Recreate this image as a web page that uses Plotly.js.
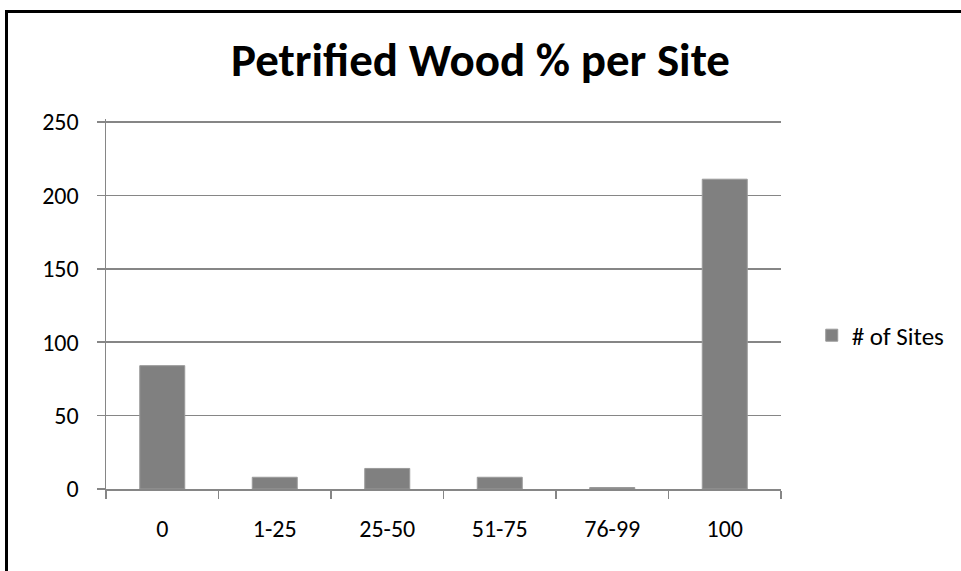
<!DOCTYPE html>
<html>
<head>
<meta charset="utf-8">
<script src="https://cdn.plot.ly/plotly-3.0.1.min.js"></script>
<style>
html,body{margin:0;padding:0;background:#fff;overflow:hidden;}
#frame{position:absolute;left:5px;top:10px;width:2000px;height:2000px;border:3px solid #000;pointer-events:none;z-index:5;}
#chart{position:absolute;left:0;top:0;width:961px;height:571px;}
</style>
</head>
<body>
<div id="chart"></div>
<div id="frame"></div>
<script>
const categories = ["0", "1-25", "25-50", "51-75", "76-99", "100"];
const sites = [84, 8, 14, 8, 1, 211];
const seriesName = "# of Sites";
const yTicks = [0, 50, 100, 150, 200, 250];

const fontFam = "Carlito, Calibri, 'Liberation Sans Narrow', 'DejaVu Sans Condensed', 'Open Sans', sans-serif";

const trace = {
  type: "bar",
  x: categories,
  y: sites,
  name: seriesName,
  width: 0.4,
  marker: {color: "#808080", line: {color: "#9a9a9a", width: 1}},
  showlegend: true
};

const layout = {
  width: 961, height: 571,
  margin: {l: 106, r: 179, t: 119, b: 82},
  paper_bgcolor: "#fff", plot_bgcolor: "#fff",
  font: {family: fontFam, size: 24, color: "#000"},
  title: {text: "<b>Petrified Wood % per Site</b>", font: {family: fontFam, size: 47, color: "#000"},
          x: 0.5, xanchor: "center", y: 0.895, yanchor: "middle"},
  xaxis: {
    type: "category",
    range: [-0.5, 5.5],
    showgrid: false,
    showline: true, linecolor: "#868686", linewidth: 1.5,
    ticks: "outside", ticklen: 8, tickcolor: "#868686", tickwidth: 1.5,
    tickson: "boundaries",
    tickfont: {family: fontFam, size: 24},
    ticklabelstandoff: 18,
    zeroline: false, fixedrange: true
  },
  yaxis: {
    range: [0, 252],
    tickvals: yTicks,
    showgrid: true, gridcolor: "#868686", gridwidth: 1.5,
    showline: true, linecolor: "#868686", linewidth: 1.5,
    ticks: "outside", ticklen: 8, tickcolor: "#868686", tickwidth: 1.5,
    tickfont: {family: fontFam, size: 24},
    ticklabelstandoff: 13,
    zeroline: false, fixedrange: true
  },
  legend: {x: 1.044, xanchor: "left", y: 0.415, yanchor: "middle",
           font: {family: fontFam, size: 25}, bgcolor: "rgba(0,0,0,0)", itemwidth: 30}
};

Plotly.newPlot("chart", [trace], layout, {displayModeBar: false, staticPlot: true});
</script>
</body>
</html>
